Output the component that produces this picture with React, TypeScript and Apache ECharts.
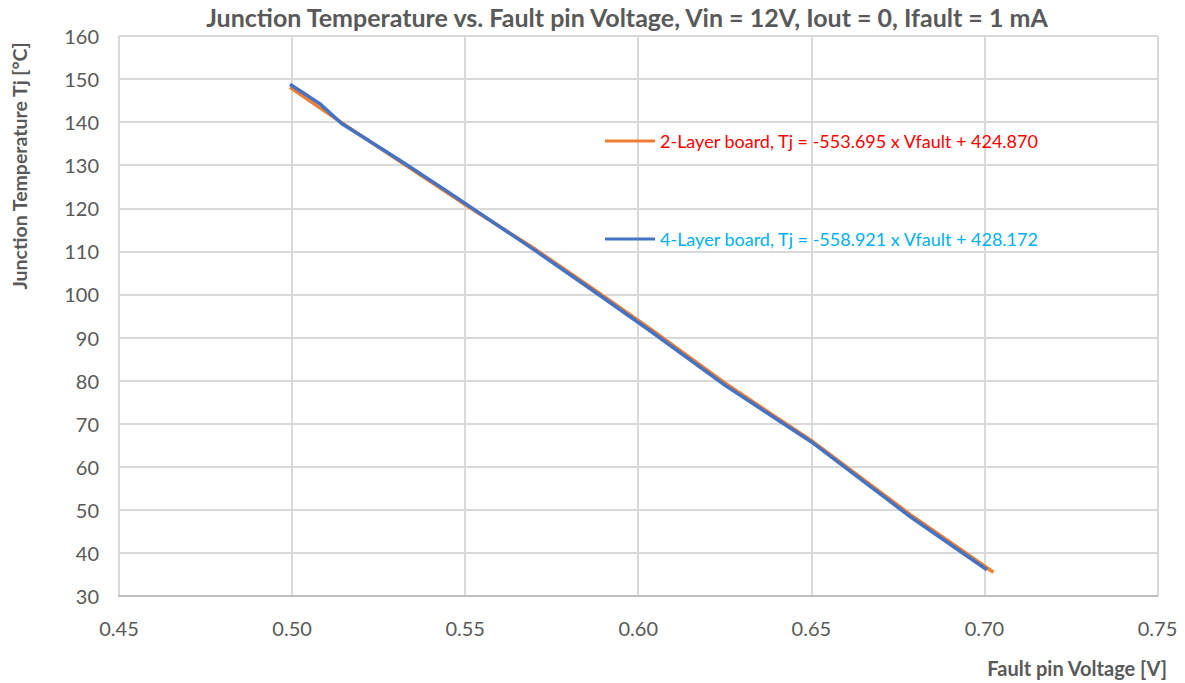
import React, { useEffect, useRef } from "react";
import * as echarts from "echarts";

// 2-Layer board (orange)
const v2Layer = [0.4994, 0.5143, 0.531, 0.5486, 0.5706, 0.5878, 0.603, 0.6251, 0.6505, 0.6786, 0.7026];
const tj2Layer = [148.1, 139.9, 131.0, 121.6, 110.3, 100.8, 92.3, 79.4, 65.8, 48.9, 35.5];

// 4-Layer board (blue)
const v4Layer = [0.4994, 0.508, 0.5143, 0.531, 0.5445, 0.5706, 0.5878, 0.603, 0.6251, 0.6505, 0.6786, 0.7007];
const tj4Layer = [148.8, 144.3, 139.7, 131.2, 124.1, 110.0, 100.4, 91.8, 78.9, 65.5, 48.4, 36.1];

const name2 = "2-Layer board, Tj = -553.695 x Vfault + 424.870";
const name4 = "4-Layer board, Tj = -558.921 x Vfault + 428.172";
const titleText = "Junction Temperature vs. Fault pin Voltage, Vin = 12V, Iout = 0, Ifault = 1 mA";
const yName = "Junction Temperature Tj [°C]";
const xName = "Fault pin Voltage [V]";

const FONT = "Lato";
const GRAY = "#595959";

export default function App() {
  const ref = useRef<HTMLDivElement>(null);
  useEffect(() => {
    if (!ref.current) return;
    const chart = echarts.init(ref.current, null, { renderer: "svg" });
    const d2 = v2Layer.map((v, i) => [v, tj2Layer[i]]);
    const d4 = v4Layer.map((v, i) => [v, tj4Layer[i]]);
    chart.setOption({
      animation: false,
      backgroundColor: "#ffffff",
      textStyle: { fontFamily: FONT },
      grid: { left: 119, right: 27.5, top: 36, bottom: 87, containLabel: false },
      xAxis: {
        type: "value",
        min: 0.45,
        max: 0.75,
        interval: 0.05,
        axisLine: { show: true, lineStyle: { color: "#BFBFBF", width: 2 } },
        axisTick: { show: false },
        axisLabel: {
          color: GRAY,
          fontSize: 20,
          fontFamily: FONT,
          margin: 22,
          formatter: (v: number) => v.toFixed(2),
        },
        splitLine: { show: true, lineStyle: { color: "#D9D9D9", width: 2 } },
      },
      yAxis: {
        type: "value",
        min: 30,
        max: 160,
        interval: 10,
        axisLine: { show: false },
        axisTick: { show: false },
        axisLabel: { color: GRAY, fontSize: 20, fontFamily: FONT, margin: 20 },
        splitLine: { show: true, lineStyle: { color: "#D9D9D9", width: 2 } },
      },
      legend: {
        orient: "vertical",
        left: 605,
        top: 131,
        padding: 0,
        itemGap: 78,
        itemWidth: 50,
        itemHeight: 3,
        icon: "rect",
        textStyle: { fontSize: 18, fontFamily: FONT, lineHeight: 20 },
        data: [
          { name: name2, textStyle: { color: "#FF0000" } },
          { name: name4, textStyle: { color: "#00B0F0" } },
        ],
      },
      series: [
        {
          name: name2,
          type: "line",
          data: d2,
          showSymbol: false,
          symbol: "none",
          color: "#ED7D31",
          lineStyle: { color: "#ED7D31", width: 3.5 },
          itemStyle: { color: "#ED7D31" },
        },
        {
          name: name4,
          type: "line",
          data: d4,
          showSymbol: false,
          symbol: "none",
          color: "#4472C4",
          lineStyle: { color: "#4472C4", width: 3.5 },
          itemStyle: { color: "#4472C4" },
        },
      ],
      graphic: [
        {
          type: "text",
          x: 627,
          y: 17,
          style: {
            text: titleText,
            fill: GRAY,
            fontSize: 25,
            fontWeight: "bold",
            fontFamily: FONT,
            textAlign: "center",
            textVerticalAlign: "middle",
          },
        },
        {
          type: "text",
          x: 19,
          y: 166,
          rotation: Math.PI / 2,
          style: {
            text: yName,
            fill: GRAY,
            fontSize: 19.5,
            fontWeight: "bold",
            fontFamily: FONT,
            textAlign: "center",
            textVerticalAlign: "middle",
          },
        },
        {
          type: "text",
          x: 1167,
          y: 668,
          style: {
            text: xName,
            fill: GRAY,
            fontSize: 20,
            fontWeight: "bold",
            fontFamily: FONT,
            textAlign: "right",
            textVerticalAlign: "middle",
          },
        },
      ],
    });
    return () => chart.dispose();
  }, []);
  return (
    <div
      ref={ref}
      style={{ position: "absolute", left: 0, top: 0, width: 1185, height: 683 }}
    />
  );
}
